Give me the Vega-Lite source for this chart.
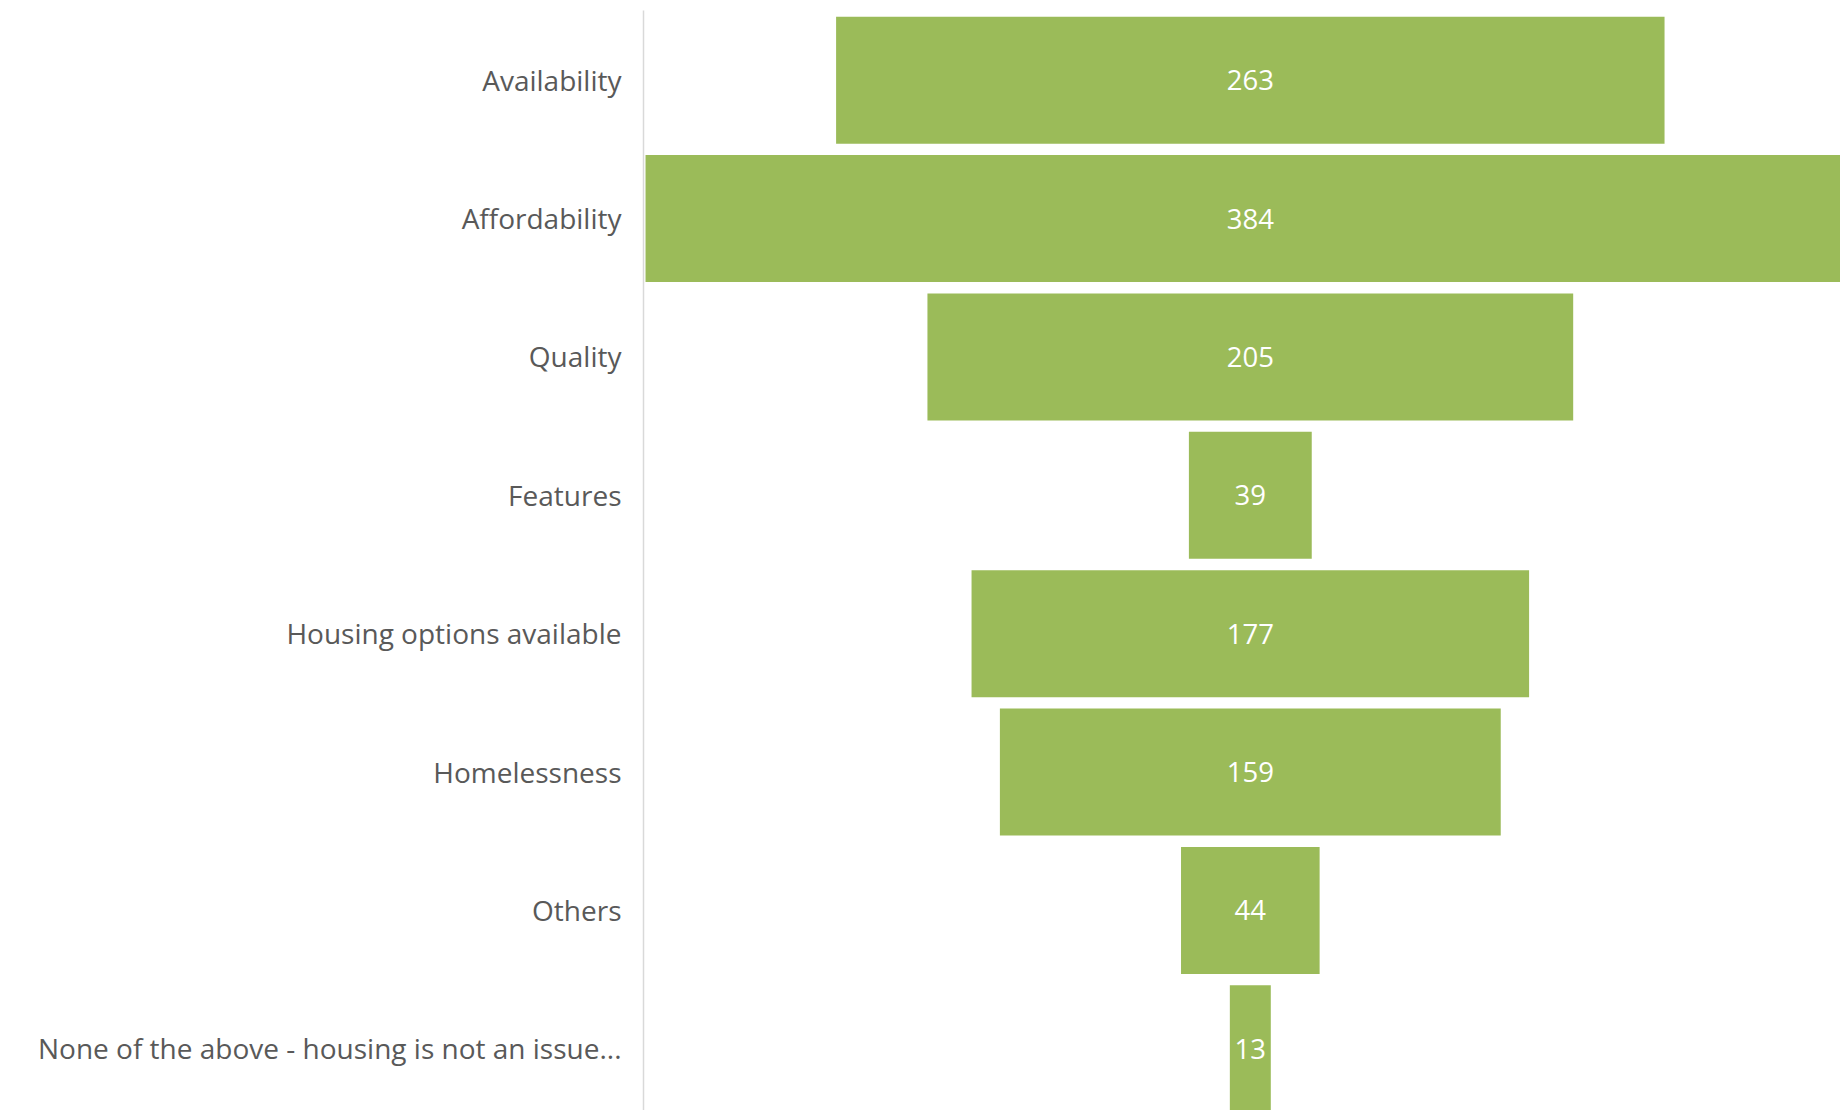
{
  "$schema": "https://vega.github.io/schema/vega-lite/v6.json",
  "autosize": {"type": "none"},
  "padding": {"left": 643, "top": 10, "right": 0, "bottom": 0},
  "width": 1197,
  "height": 1100,
  "background": "white",
  "config": {"view": {"stroke": null}, "font": "Open Sans"},
  "data": {
    "values": [
      {"category": "Availability", "count": 263},
      {"category": "Affordability", "count": 384},
      {"category": "Quality", "count": 205},
      {"category": "Features", "count": 39},
      {"category": "Housing options available", "count": 177},
      {"category": "Homelessness", "count": 159},
      {"category": "Others", "count": 44},
      {"category": "None of the above - housing is not an issue...", "count": 13}
    ]
  },
  "encoding": {
    "y": {
      "field": "category",
      "type": "nominal",
      "sort": null,
      "scale": {"range": [0, 1109], "paddingInner": 0.082, "paddingOuter": 0.048},
      "axis": {
        "title": null,
        "ticks": false,
        "grid": false,
        "domainColor": "#d9d9d9",
        "domainWidth": 1.5,
        "labelFont": "Open Sans",
        "labelFontSize": 28,
        "labelColor": "#595959",
        "labelPadding": 22,
        "labelOffset": 2.5,
        "labelLimit": 0
      }
    }
  },
  "layer": [
    {
      "mark": {"type": "bar", "color": "#9BBB59", "clip": false},
      "encoding": {
        "x": {
          "field": "count",
          "type": "quantitative",
          "stack": "center",
          "scale": {"domain": [-0.8, 379.2], "nice": false, "zero": false},
          "axis": null
        }
      }
    },
    {
      "mark": {"type": "text", "color": "white", "font": "Open Sans", "fontSize": 27.5, "baseline": "middle", "align": "center", "dy": 2},
      "encoding": {
        "x": {"datum": 192, "type": "quantitative"},
        "text": {"field": "count", "type": "quantitative"}
      }
    }
  ]
}
